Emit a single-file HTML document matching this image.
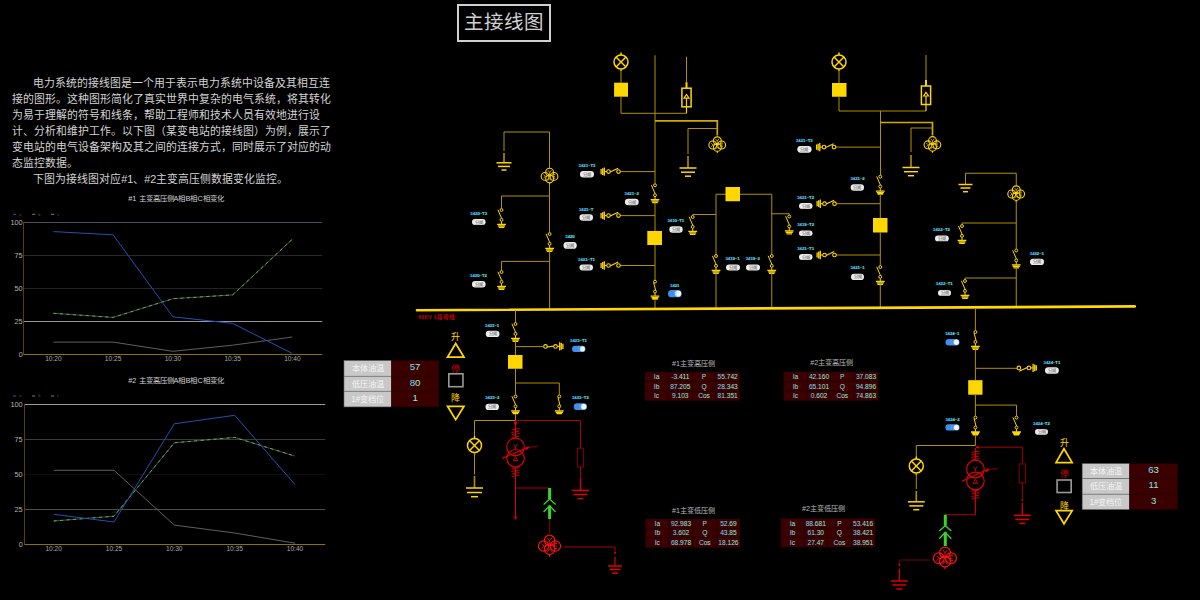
<!DOCTYPE html>
<html lang="zh-CN"><head><meta charset="utf-8"><title>主接线图</title>
<style>
html,body{margin:0;padding:0;background:#000;width:1200px;height:600px;overflow:hidden}
body{position:relative;font-family:"Liberation Sans",sans-serif}
#title{position:absolute;left:457px;top:4px;width:89.5px;height:33.6px;border:2.2px solid #cfcfcf;color:#d0d0d0;font-size:19.5px;line-height:33.6px;text-align:center;letter-spacing:0}
#intro{position:absolute;left:11.5px;top:75.3px;width:322px;font-size:10.87px;line-height:16px;color:#d4d4d4}
#intro p{margin:0;text-indent:21.74px}
svg{position:absolute;left:0;top:0}
.lb{font-size:4.25px;font-weight:bold;fill:url(#lbg);stroke:url(#lbg);stroke-width:0.12px}
.pt{font-size:4.2px}
.ct{font-size:9px}
.st{font-size:8.2px}
.sv{font-size:9.6px;fill:url(#vg)}
.dt{font-size:7.2px;fill:#b8b8b8}
.dv{font-size:6.6px;fill:url(#vg)}
.cht{font-size:7.4px;fill:#d0d0d0}
.ax{font-size:6.6px;fill:#a8a8a8}
.ax2{font-size:7.3px;fill:#b4b4b4}
</style></head><body>
<div id="title">主接线图</div>
<div id="intro"><p>电力系统的接线图是一个用于表示电力系统中设备及其相互连接的图形。这种图形简化了真实世界中复杂的电气系统，将其转化为易于理解的符号和线条，帮助工程师和技术人员有效地进行设计、分析和维护工作。以下图（某变电站的接线图）为例，展示了变电站的电气设备架构及其之间的连接方式，同时展示了对应的动态监控数据。</p><p>下图为接线图对应#1、#2主变高压侧数据变化监控。</p></div>
<svg width="1200" height="600" viewBox="0 0 1200 600" font-family="Liberation Sans, sans-serif">
<defs><linearGradient id="lbg" x1="0" y1="0" x2="1" y2="0"><stop offset="0" stop-color="#40b8ff"/><stop offset="0.55" stop-color="#55e4f8"/><stop offset="1" stop-color="#60f0c8"/></linearGradient><linearGradient id="vg" x1="0" y1="0" x2="1" y2="0"><stop offset="0" stop-color="#78c8ff"/><stop offset="0.5" stop-color="#88ecf0"/><stop offset="1" stop-color="#98f4b8"/></linearGradient></defs>
<g id="charts">
<text x="176" y="200.5" class="cht" text-anchor="middle">#1 主变高压侧A相B相C相变化</text>
<line x1="13" y1="214.3" x2="16.2" y2="214.3" stroke="#3a6fd8" stroke-width="1" opacity="0.8"/>
<text x="19" y="215.5" font-size="3" fill="#555">Ia</text>
<line x1="32" y1="214.3" x2="35.2" y2="214.3" stroke="#6ac24a" stroke-width="1" opacity="0.8"/>
<text x="38" y="215.5" font-size="3" fill="#555">Ib</text>
<line x1="51" y1="214.3" x2="54.2" y2="214.3" stroke="#9a9a9a" stroke-width="1" opacity="0.8"/>
<text x="57" y="215.5" font-size="3" fill="#555">Ic</text>
<line x1="23.5" y1="222.5" x2="322.3" y2="222.5" stroke="#50525a" stroke-width="1"/>
<text x="22.7" y="224.9" class="ax2" text-anchor="end">100</text>
<line x1="23.5" y1="255.5" x2="322.3" y2="255.5" stroke="#282828" stroke-width="1"/>
<text x="22.7" y="257.9" class="ax2" text-anchor="end">75</text>
<line x1="23.5" y1="288.5" x2="322.3" y2="288.5" stroke="#232323" stroke-width="1"/>
<text x="22.7" y="290.9" class="ax2" text-anchor="end">50</text>
<line x1="23.5" y1="321.5" x2="322.3" y2="321.5" stroke="#969696" stroke-width="1"/>
<text x="22.7" y="323.9" class="ax2" text-anchor="end">25</text>
<text x="22.7" y="356.9" class="ax2" text-anchor="end">0</text>
<line x1="23.5" y1="222.5" x2="23.5" y2="354.5" stroke="#524200" stroke-width="1"/>
<line x1="23.5" y1="354.5" x2="322.3" y2="354.5" stroke="#8a7300" stroke-width="1"/>
<text x="53.4" y="361.2" class="ax" text-anchor="middle">10:20</text>
<text x="113.1" y="361.2" class="ax" text-anchor="middle">10:25</text>
<text x="172.9" y="361.2" class="ax" text-anchor="middle">10:30</text>
<text x="232.7" y="361.2" class="ax" text-anchor="middle">10:35</text>
<text x="292.4" y="361.2" class="ax" text-anchor="middle">10:40</text>
<polyline points="53.4,342.1 113.1,342.1 172.9,351.3 232.7,345.2 292.4,337" fill="none" stroke="#6a6a6a" stroke-width="0.9" stroke-linejoin="round"/>
<polyline points="53.4,313.3 113.1,317.4 172.9,298.7 232.7,294.9 292.4,239.2" fill="none" stroke="#505050" stroke-width="0.9" stroke-linejoin="round"/>
<polyline points="53.4,313.3 113.1,317.4 172.9,298.7 232.7,294.9 292.4,239.2" fill="none" stroke="#4cc03c" stroke-width="1" stroke-dasharray="3 3.5"/>
<polyline points="53.4,231.6 113.1,234.8 172.9,316.8 232.7,323.4 292.4,353.5" fill="none" stroke="#2250b8" stroke-width="1.0" stroke-linejoin="round"/>
<text x="176" y="382.6" class="cht" text-anchor="middle">#2 主变高压侧A相B相C相变化</text>
<line x1="13" y1="396" x2="16.2" y2="396" stroke="#3a6fd8" stroke-width="1" opacity="0.8"/>
<text x="19" y="397.2" font-size="3" fill="#555">Ia</text>
<line x1="32" y1="396" x2="35.2" y2="396" stroke="#6ac24a" stroke-width="1" opacity="0.8"/>
<text x="38" y="397.2" font-size="3" fill="#555">Ib</text>
<line x1="51" y1="396" x2="54.2" y2="396" stroke="#9a9a9a" stroke-width="1" opacity="0.8"/>
<text x="57" y="397.2" font-size="3" fill="#555">Ic</text>
<line x1="24.5" y1="404.5" x2="325.2" y2="404.5" stroke="#a59b96" stroke-width="1"/>
<text x="22.7" y="406.9" class="ax2" text-anchor="end">100</text>
<line x1="24.5" y1="439.5" x2="325.2" y2="439.5" stroke="#373c3c" stroke-width="1"/>
<text x="22.7" y="441.9" class="ax2" text-anchor="end">75</text>
<line x1="24.5" y1="474.5" x2="325.2" y2="474.5" stroke="#0c0e12" stroke-width="1"/>
<text x="22.7" y="476.9" class="ax2" text-anchor="end">50</text>
<line x1="24.5" y1="509.5" x2="325.2" y2="509.5" stroke="#504e46" stroke-width="1"/>
<text x="22.7" y="511.9" class="ax2" text-anchor="end">25</text>
<text x="22.7" y="546.9" class="ax2" text-anchor="end">0</text>
<line x1="24.5" y1="404.5" x2="24.5" y2="544.5" stroke="#524200" stroke-width="1"/>
<line x1="24.5" y1="544.5" x2="325.2" y2="544.5" stroke="#8a7300" stroke-width="1"/>
<text x="53.7" y="551.1999999999999" class="ax" text-anchor="middle">10:20</text>
<text x="114.0" y="551.1999999999999" class="ax" text-anchor="middle">10:25</text>
<text x="174.3" y="551.1999999999999" class="ax" text-anchor="middle">10:30</text>
<text x="234.7" y="551.1999999999999" class="ax" text-anchor="middle">10:35</text>
<text x="295.0" y="551.1999999999999" class="ax" text-anchor="middle">10:40</text>
<polyline points="53.7,470.3 114.0,470.3 174.3,525.1 234.7,533 295.0,543.2" fill="none" stroke="#6a6a6a" stroke-width="0.9" stroke-linejoin="round"/>
<polyline points="53.7,521 114.0,516.2 174.3,442.8 234.7,437.4 295.0,456.1" fill="none" stroke="#505050" stroke-width="0.9" stroke-linejoin="round"/>
<polyline points="53.7,521 114.0,516.2 174.3,442.8 234.7,437.4 295.0,456.1" fill="none" stroke="#4cc03c" stroke-width="1" stroke-dasharray="3 3.5"/>
<polyline points="53.7,514.3 114.0,522 174.3,423.8 234.7,415.3 295.0,484.6" fill="none" stroke="#2250b8" stroke-width="1.0" stroke-linejoin="round"/>
</g>
<g id="diagram">
<g stroke="#ffd700" fill="none" stroke-width="1.5"><circle cx="621" cy="62" r="7.0"/><line x1="616.051" y1="57.051" x2="625.949" y2="66.949"/><line x1="616.051" y1="66.949" x2="625.949" y2="57.051"/><line x1="621" y1="52.5" x2="621" y2="55.0"/><line x1="621" y1="69.0" x2="621" y2="71.0"/></g>
<line x1="621" y1="69.2" x2="621" y2="82.7" stroke="#b09200" stroke-width="1.0" />
<rect x="614.1" y="82.7" width="13.9" height="14" fill="#ffd700"/>
<polyline points="621,96.7 621,113.3 686.5,113.3" fill="none" stroke="#b09200" stroke-width="1.0"/>
<line x1="686.5" y1="56.7" x2="686.5" y2="82.2" stroke="#b09200" stroke-width="1" />
<line x1="686.5" y1="82.2" x2="686.5" y2="88.2" stroke="#ffd700" stroke-width="2" />
<rect x="681.9" y="88.2" width="9.2" height="18.599999999999994" fill="none" stroke="#ffd700" stroke-width="1.5"/>
<path d="M686.5,107.3 V98.2 M684.0,98.2 L686.5,94.5 L689.0,98.2 Z" fill="none" stroke="#ffd700" stroke-width="1.2"/>
<line x1="686.5" y1="106.8" x2="686.5" y2="113.3" stroke="#ffd700" stroke-width="1.2" />
<line x1="655" y1="55.3" x2="655" y2="183.7" stroke="#b09200" stroke-width="1.0" />
<polyline points="655,120.8 717.3,120.8 717.3,135.5" fill="none" stroke="#d0aa00" stroke-width="1.7"/>
<g stroke="#ffd700" fill="none" stroke-width="1.5" transform="translate(717.3,145) scale(0.727)"><circle cx="0" cy="-5.8" r="5.4"/><circle cx="-6.2" cy="0" r="5.4"/><circle cx="6" cy="0" r="5.4"/><circle cx="0" cy="3.3" r="5.4"/><path d="M-2.5,-8.5 L0,-5.5 L2.5,-8.5 M0,-5.5 V-2.5 M-8.5,-2.5 L-6,0 L-8.5,2.5 M-6,0 H-3 M8,-2.5 H5 V2.5 H8 M5,0 H7.5 M-2.5,6 L0,3 L2.5,6" stroke-width="1"/><line x1="0" y1="8.7" x2="0" y2="11"/></g>
<polyline points="717,128.5 688,128.5 688,154" fill="none" stroke="#b09200" stroke-width="1.0"/>
<line x1="688" y1="156" x2="688" y2="168" stroke="#b09200" stroke-width="1.6" />
<g stroke="#ffd700" stroke-width="1.5"><line x1="679.5" y1="168" x2="696.5" y2="168"/><line x1="681.0" y1="172.2" x2="695.0" y2="172.2"/><line x1="685.0" y1="176.2" x2="691.0" y2="176.2"/></g>
<line x1="620.3" y1="171.6" x2="655" y2="171.6" stroke="#b09200" stroke-width="1.0" />
<g transform="translate(618.5,171.6) rotate(90)">
<g stroke="#ffd700" fill="none" stroke-width="1.1"><circle cx="0" cy="0" r="1.8"/><line x1="-3.4" y1="0.3" x2="0.4" y2="8.4"/><circle cx="0" cy="10" r="1.8"/><line x1="0" y1="11.8" x2="0" y2="14"/><path d="M-4.2,14.2 H4.2 M-3.4,15.8 H3.4 M-2.6,17.4 H2.6" stroke-width="1.3"/></g></g>
<text x="587.0" y="167.2" class="lb" text-anchor="middle">3421–T3</text>
<rect x="580" y="171" width="14" height="6.5" rx="3.25" fill="#ececec"/><text x="587.0" y="175.75" class="pt" text-anchor="middle" fill="#606060">分闸</text>
<g stroke="#ffd700" fill="none" stroke-width="1"><circle cx="655" cy="185.3" r="1.45"/><line x1="651.4" y1="185.10000000000002" x2="655.2" y2="193.8"/><circle cx="655" cy="195.20000000000002" r="1.45"/><line x1="655" y1="196.8" x2="655" y2="199.5"/><path d="M650.6,199.70000000000002 H659.4 M651.4,201.20000000000002 H658.6 M652.2,202.60000000000002 H657.8" stroke-width="1.3"/></g>
<line x1="655" y1="202.5" x2="655" y2="231" stroke="#b09200" stroke-width="1.0" />
<line x1="620.3" y1="215.6" x2="655" y2="215.6" stroke="#b09200" stroke-width="1.0" />
<g transform="translate(618.5,215.6) rotate(90)">
<g stroke="#ffd700" fill="none" stroke-width="1.1"><circle cx="0" cy="0" r="1.8"/><line x1="-3.4" y1="0.3" x2="0.4" y2="8.4"/><circle cx="0" cy="10" r="1.8"/><line x1="0" y1="11.8" x2="0" y2="14"/><path d="M-4.2,14.2 H4.2 M-3.4,15.8 H3.4 M-2.6,17.4 H2.6" stroke-width="1.3"/></g></g>
<text x="586.125" y="210.7" class="lb" text-anchor="middle">3421–T</text>
<rect x="579.5" y="214.25" width="13.5" height="6.5" rx="3.25" fill="#ececec"/><text x="586.25" y="219.0" class="pt" text-anchor="middle" fill="#606060">分闸</text>
<text x="631.7" y="194.89999999999998" class="lb" text-anchor="middle">3421–2</text>
<rect x="624.9" y="198.7" width="13.800000000000068" height="6.600000000000023" rx="3.3000000000000114" fill="#ececec"/><text x="631.8" y="203.5" class="pt" text-anchor="middle" fill="#606060">分闸</text>
<rect x="647.3" y="231" width="14.7" height="14" fill="#ffd700"/>
<line x1="655" y1="245" x2="655" y2="280" stroke="#b09200" stroke-width="1.0" />
<line x1="620.3" y1="265.5" x2="655" y2="265.5" stroke="#b09200" stroke-width="1.0" />
<g transform="translate(618.5,265.5) rotate(90)">
<g stroke="#ffd700" fill="none" stroke-width="1.1"><circle cx="0" cy="0" r="1.8"/><line x1="-3.4" y1="0.3" x2="0.4" y2="8.4"/><circle cx="0" cy="10" r="1.8"/><line x1="0" y1="11.8" x2="0" y2="14"/><path d="M-4.2,14.2 H4.2 M-3.4,15.8 H3.4 M-2.6,17.4 H2.6" stroke-width="1.3"/></g></g>
<text x="586.5" y="260.7" class="lb" text-anchor="middle">3421–T1</text>
<rect x="579.5" y="264.5" width="13.5" height="6.0" rx="3.0" fill="#ececec"/><text x="586.25" y="269.0" class="pt" text-anchor="middle" fill="#606060">分闸</text>
<g stroke="#ffd700" fill="none" stroke-width="1"><circle cx="655" cy="281.7" r="1.45"/><line x1="653.7" y1="282.7" x2="655.6" y2="290.2"/><circle cx="655" cy="291.59999999999997" r="1.45"/><line x1="655" y1="293.2" x2="655" y2="295.9"/><path d="M650.6,296.09999999999997 H659.4 M651.4,297.59999999999997 H658.6 M652.2,299.0 H657.8" stroke-width="1.3"/></g>
<line x1="655" y1="299" x2="655" y2="309" stroke="#b09200" stroke-width="1.0" />
<text x="674.75" y="286.7" class="lb" text-anchor="middle">3421</text>
<rect x="668" y="290" width="13.700000000000045" height="7.300000000000011" rx="3.6500000000000057" fill="#3d8ef0"/><circle cx="678.0500000000001" cy="293.65" r="3.0500000000000056" fill="#f4f4f4"/><text x="672.5" y="295.25" class="pt" fill="#8ab">分</text>
<polyline points="504,151 504,132 549.5,132 549.5,168" fill="none" stroke="#b09200" stroke-width="1.0"/>
<line x1="504" y1="153" x2="504" y2="162.5" stroke="#b09200" stroke-width="1.6" />
<g stroke="#ffd700" stroke-width="1.5"><line x1="496.5" y1="162.8" x2="511.5" y2="162.8"/><line x1="498.0" y1="166.4" x2="510.0" y2="166.4"/><line x1="501.5" y1="170.0" x2="506.5" y2="170.0"/></g>
<g stroke="#ffd700" fill="none" stroke-width="1.5" transform="translate(549.6,176.4) scale(0.727)"><circle cx="0" cy="-5.8" r="5.4"/><circle cx="-6.2" cy="0" r="5.4"/><circle cx="6" cy="0" r="5.4"/><circle cx="0" cy="3.3" r="5.4"/><path d="M-2.5,-8.5 L0,-5.5 L2.5,-8.5 M0,-5.5 V-2.5 M-8.5,-2.5 L-6,0 L-8.5,2.5 M-6,0 H-3 M8,-2.5 H5 V2.5 H8 M5,0 H7.5 M-2.5,6 L0,3 L2.5,6" stroke-width="1"/><line x1="0" y1="8.7" x2="0" y2="11"/></g>
<line x1="549.5" y1="184" x2="549.5" y2="232.4" stroke="#b09200" stroke-width="1.0" />
<polyline points="549.5,196 501.5,196 501.5,208.4" fill="none" stroke="#b09200" stroke-width="1.0"/>
<g stroke="#ffd700" fill="none" stroke-width="1"><circle cx="501.5" cy="210" r="1.45"/><line x1="497.9" y1="209.8" x2="501.7" y2="218.5"/><circle cx="501.5" cy="219.9" r="1.45"/><line x1="501.5" y1="221.5" x2="501.5" y2="224.2"/><path d="M497.1,224.4 H505.9 M497.9,225.9 H505.1 M498.7,227.3 H504.3" stroke-width="1.3"/></g>
<text x="478.7" y="214.6" class="lb" text-anchor="middle">3420–T3</text>
<rect x="472" y="219" width="13.600000000000023" height="6" rx="3.0" fill="#ececec"/><text x="478.8" y="223.5" class="pt" text-anchor="middle" fill="#606060">分闸</text>
<g stroke="#ffd700" fill="none" stroke-width="1"><circle cx="549.6" cy="234" r="1.45"/><line x1="546.0" y1="233.8" x2="549.8000000000001" y2="242.5"/><circle cx="549.6" cy="243.9" r="1.45"/><line x1="549.6" y1="245.5" x2="549.6" y2="248.2"/><path d="M545.2,248.4 H554.0 M546.0,249.9 H553.2 M546.8000000000001,251.3 H552.4" stroke-width="1.3"/></g>
<line x1="549.6" y1="251.3" x2="549.6" y2="309.5" stroke="#b09200" stroke-width="1.0" />
<text x="570.0" y="238.2" class="lb" text-anchor="middle">3420</text>
<rect x="563.5" y="242" width="13.25" height="6.75" rx="3.375" fill="#ececec"/><text x="570.125" y="246.875" class="pt" text-anchor="middle" fill="#606060">分闸</text>
<polyline points="549.6,261.4 501.5,261.4 501.5,270.4" fill="none" stroke="#b09200" stroke-width="1.0"/>
<g stroke="#ffd700" fill="none" stroke-width="1"><circle cx="501.5" cy="272" r="1.45"/><line x1="497.9" y1="271.8" x2="501.7" y2="280.5"/><circle cx="501.5" cy="281.9" r="1.45"/><line x1="501.5" y1="283.5" x2="501.5" y2="286.2"/><path d="M497.1,286.4 H505.9 M497.9,287.9 H505.1 M498.7,289.3 H504.3" stroke-width="1.3"/></g>
<text x="478.5" y="277.2" class="lb" text-anchor="middle">3420–T2</text>
<rect x="472" y="281" width="13.600000000000023" height="6.399999999999977" rx="3.1999999999999886" fill="#ececec"/><text x="478.8" y="285.7" class="pt" text-anchor="middle" fill="#606060">分闸</text>
<polyline points="716,254.4 716,194.25 771.75,194.25 771.75,254.4" fill="none" stroke="#b09200" stroke-width="1.0"/>
<rect x="725.5" y="187" width="14.5" height="14.25" fill="#ffd700"/>
<g stroke="#ffd700" fill="none" stroke-width="1"><circle cx="716" cy="256" r="1.45"/><line x1="712.4" y1="255.8" x2="716.2" y2="264.5"/><circle cx="716" cy="265.9" r="1.45"/><line x1="716" y1="267.5" x2="716" y2="270.2"/><path d="M711.6,270.4 H720.4 M712.4,271.9 H719.6 M713.2,273.3 H718.8" stroke-width="1.3"/></g>
<line x1="716" y1="273.2" x2="716" y2="308.3" stroke="#b09200" stroke-width="1.0" />
<g stroke="#ffd700" fill="none" stroke-width="1"><circle cx="771.75" cy="256" r="1.45"/><line x1="768.15" y1="255.8" x2="771.95" y2="264.5"/><circle cx="771.75" cy="265.9" r="1.45"/><line x1="771.75" y1="267.5" x2="771.75" y2="270.2"/><path d="M767.35,270.4 H776.15 M768.15,271.9 H775.35 M768.95,273.3 H774.55" stroke-width="1.3"/></g>
<line x1="771.75" y1="273.2" x2="771.75" y2="308" stroke="#b09200" stroke-width="1.0" />
<polyline points="716,214.5 692.7,214.5 692.7,215.4" fill="none" stroke="#b09200" stroke-width="1.0"/>
<g stroke="#ffd700" fill="none" stroke-width="1"><circle cx="692.7" cy="217" r="1.45"/><line x1="689.1" y1="216.8" x2="692.9000000000001" y2="225.5"/><circle cx="692.7" cy="226.9" r="1.45"/><line x1="692.7" y1="228.5" x2="692.7" y2="231.2"/><path d="M688.3000000000001,231.4 H697.1 M689.1,232.9 H696.3000000000001 M689.9000000000001,234.3 H695.5" stroke-width="1.3"/></g>
<polyline points="771.75,213.75 789.25,213.75 789.25,214.9" fill="none" stroke="#b09200" stroke-width="1.0"/>
<g stroke="#ffd700" fill="none" stroke-width="1"><circle cx="789.25" cy="216.5" r="1.45"/><line x1="785.65" y1="216.3" x2="789.45" y2="225.0"/><circle cx="789.25" cy="226.4" r="1.45"/><line x1="789.25" y1="228.0" x2="789.25" y2="230.7"/><path d="M784.85,230.9 H793.65 M785.65,232.4 H792.85 M786.45,233.8 H792.05" stroke-width="1.3"/></g>
<text x="675.85" y="222.2" class="lb" text-anchor="middle">3410–T1</text>
<rect x="669.3" y="226.3" width="13.400000000000091" height="6.399999999999977" rx="3.1999999999999886" fill="#ececec"/><text x="676.0" y="231.0" class="pt" text-anchor="middle" fill="#606060">分闸</text>
<text x="732.5" y="260.2" class="lb" text-anchor="middle">3419–1</text>
<rect x="726" y="264.5" width="14" height="6.0" rx="3.0" fill="#ececec"/><text x="733.0" y="269.0" class="pt" text-anchor="middle" fill="#606060">分闸</text>
<text x="752.75" y="260.2" class="lb" text-anchor="middle">3419–2</text>
<rect x="746" y="264.5" width="14" height="6.0" rx="3.0" fill="#ececec"/><text x="753.0" y="269.0" class="pt" text-anchor="middle" fill="#606060">分闸</text>
<text x="805.625" y="226.2" class="lb" text-anchor="middle">3419–T2</text>
<rect x="799" y="230.5" width="13.5" height="5.5" rx="2.75" fill="#ececec"/><text x="805.75" y="234.75" class="pt" text-anchor="middle" fill="#606060">分闸</text>
<g stroke="#ffd700" fill="none" stroke-width="1.5"><circle cx="839" cy="62" r="7.0"/><line x1="834.051" y1="57.051" x2="843.949" y2="66.949"/><line x1="834.051" y1="66.949" x2="843.949" y2="57.051"/><line x1="839" y1="52.5" x2="839" y2="55.0"/><line x1="839" y1="69.0" x2="839" y2="71.0"/></g>
<line x1="839" y1="69.2" x2="839" y2="83" stroke="#b09200" stroke-width="1.0" />
<rect x="832" y="83" width="14.5" height="13.75" fill="#ffd700"/>
<polyline points="839,96.75 839,111 926,111" fill="none" stroke="#b09200" stroke-width="1.0"/>
<line x1="926" y1="55" x2="926" y2="80" stroke="#b09200" stroke-width="1" />
<line x1="926" y1="80" x2="926" y2="86" stroke="#ffd700" stroke-width="2" />
<rect x="921.4" y="86" width="9.2" height="18.5" fill="none" stroke="#ffd700" stroke-width="1.5"/>
<path d="M926,105.0 V96 M923.5,96 L926,92.3 L928.5,96 Z" fill="none" stroke="#ffd700" stroke-width="1.2"/>
<line x1="926" y1="104.5" x2="926" y2="111" stroke="#ffd700" stroke-width="1.2" />
<line x1="880.5" y1="111" x2="880.5" y2="175" stroke="#b09200" stroke-width="1.0" />
<polyline points="880.5,122.5 932.5,122.5 932.5,135.5" fill="none" stroke="#d0aa00" stroke-width="1.7"/>
<g stroke="#ffd700" fill="none" stroke-width="1.5" transform="translate(932.5,144.8) scale(0.727)"><circle cx="0" cy="-5.8" r="5.4"/><circle cx="-6.2" cy="0" r="5.4"/><circle cx="6" cy="0" r="5.4"/><circle cx="0" cy="3.3" r="5.4"/><path d="M-2.5,-8.5 L0,-5.5 L2.5,-8.5 M0,-5.5 V-2.5 M-8.5,-2.5 L-6,0 L-8.5,2.5 M-6,0 H-3 M8,-2.5 H5 V2.5 H8 M5,0 H7.5 M-2.5,6 L0,3 L2.5,6" stroke-width="1"/><line x1="0" y1="8.7" x2="0" y2="11"/></g>
<polyline points="932.5,128 911,128 911,152" fill="none" stroke="#b09200" stroke-width="1.0"/>
<line x1="911" y1="155" x2="911" y2="167.5" stroke="#b09200" stroke-width="1.6" />
<g stroke="#ffd700" stroke-width="1.5"><line x1="902.5" y1="167.5" x2="919.5" y2="167.5"/><line x1="904.0" y1="171.7" x2="918.0" y2="171.7"/><line x1="908.0" y1="175.7" x2="914.0" y2="175.7"/></g>
<line x1="835.8" y1="147.1" x2="880.5" y2="147.1" stroke="#b09200" stroke-width="1.0" />
<g transform="translate(834,147.1) rotate(90)">
<g stroke="#ffd700" fill="none" stroke-width="1.1"><circle cx="0" cy="0" r="1.8"/><line x1="-3.4" y1="0.3" x2="0.4" y2="8.4"/><circle cx="0" cy="10" r="1.8"/><line x1="0" y1="11.8" x2="0" y2="14"/><path d="M-4.2,14.2 H4.2 M-3.4,15.8 H3.4 M-2.6,17.4 H2.6" stroke-width="1.3"/></g></g>
<text x="804.35" y="142.2" class="lb" text-anchor="middle">3421–T3</text>
<rect x="797.3" y="146" width="14.300000000000068" height="6.699999999999989" rx="3.3499999999999943" fill="#ececec"/><text x="804.45" y="150.85" class="pt" text-anchor="middle" fill="#606060">分闸</text>
<g stroke="#ffd700" fill="none" stroke-width="1"><circle cx="880.3" cy="176.7" r="1.45"/><line x1="876.6999999999999" y1="176.5" x2="880.5" y2="185.2"/><circle cx="880.3" cy="186.6" r="1.45"/><line x1="880.3" y1="188.2" x2="880.3" y2="190.89999999999998"/><path d="M875.9,191.1 H884.6999999999999 M876.6999999999999,192.6 H883.9 M877.5,194.0 H883.0999999999999" stroke-width="1.3"/></g>
<line x1="880.3" y1="194" x2="880.3" y2="218" stroke="#b09200" stroke-width="1.0" />
<line x1="836.3" y1="203.7" x2="880.3" y2="203.7" stroke="#b09200" stroke-width="1.0" />
<g transform="translate(834.5,203.7) rotate(90)">
<g stroke="#ffd700" fill="none" stroke-width="1.1"><circle cx="0" cy="0" r="1.8"/><line x1="-3.4" y1="0.3" x2="0.4" y2="8.4"/><circle cx="0" cy="10" r="1.8"/><line x1="0" y1="11.8" x2="0" y2="14"/><path d="M-4.2,14.2 H4.2 M-3.4,15.8 H3.4 M-2.6,17.4 H2.6" stroke-width="1.3"/></g></g>
<text x="805.625" y="199.2" class="lb" text-anchor="middle">3421–T2</text>
<rect x="799" y="203" width="13.5" height="6" rx="3.0" fill="#ececec"/><text x="805.75" y="207.5" class="pt" text-anchor="middle" fill="#606060">分闸</text>
<text x="857.55" y="180.2" class="lb" text-anchor="middle">3421–2</text>
<rect x="850.7" y="184.3" width="13.299999999999955" height="6.399999999999977" rx="3.1999999999999886" fill="#ececec"/><text x="857.35" y="189.0" class="pt" text-anchor="middle" fill="#606060">分闸</text>
<rect x="873" y="218" width="14.5" height="14.5" fill="#ffd700"/>
<line x1="880.3" y1="232.5" x2="880.3" y2="265.4" stroke="#b09200" stroke-width="1.0" />
<line x1="836.3" y1="255" x2="880.3" y2="255" stroke="#b09200" stroke-width="1.0" />
<g transform="translate(834.5,255) rotate(90)">
<g stroke="#ffd700" fill="none" stroke-width="1.1"><circle cx="0" cy="0" r="1.8"/><line x1="-3.4" y1="0.3" x2="0.4" y2="8.4"/><circle cx="0" cy="10" r="1.8"/><line x1="0" y1="11.8" x2="0" y2="14"/><path d="M-4.2,14.2 H4.2 M-3.4,15.8 H3.4 M-2.6,17.4 H2.6" stroke-width="1.3"/></g></g>
<text x="805.625" y="250.45" class="lb" text-anchor="middle">3421–T1</text>
<rect x="799" y="254" width="13.5" height="6" rx="3.0" fill="#ececec"/><text x="805.75" y="258.5" class="pt" text-anchor="middle" fill="#606060">分闸</text>
<g stroke="#ffd700" fill="none" stroke-width="1"><circle cx="880.3" cy="267" r="1.45"/><line x1="876.6999999999999" y1="266.8" x2="880.5" y2="275.5"/><circle cx="880.3" cy="276.9" r="1.45"/><line x1="880.3" y1="278.5" x2="880.3" y2="281.2"/><path d="M875.9,281.4 H884.6999999999999 M876.6999999999999,282.9 H883.9 M877.5,284.3 H883.0999999999999" stroke-width="1.3"/></g>
<line x1="880.3" y1="284.2" x2="880.3" y2="307.5" stroke="#b09200" stroke-width="1.0" />
<text x="857.5" y="269.45" class="lb" text-anchor="middle">3421–1</text>
<rect x="851" y="273.75" width="13" height="6.25" rx="3.125" fill="#ececec"/><text x="857.5" y="278.375" class="pt" text-anchor="middle" fill="#606060">分闸</text>
<polyline points="965.5,184.5 965.5,173.25 1016.25,173.25 1016.25,186" fill="none" stroke="#b09200" stroke-width="1.0"/>
<g stroke="#ffd700" stroke-width="1.5"><line x1="958.5" y1="184.5" x2="972.5" y2="184.5"/><line x1="960.5" y1="188.0" x2="970.5" y2="188.0"/><line x1="963.0" y1="191.7" x2="968.0" y2="191.7"/></g>
<g stroke="#ffd700" fill="none" stroke-width="1.5" transform="translate(1016.25,194) scale(0.727)"><circle cx="0" cy="-5.8" r="5.4"/><circle cx="-6.2" cy="0" r="5.4"/><circle cx="6" cy="0" r="5.4"/><circle cx="0" cy="3.3" r="5.4"/><path d="M-2.5,-8.5 L0,-5.5 L2.5,-8.5 M0,-5.5 V-2.5 M-8.5,-2.5 L-6,0 L-8.5,2.5 M-6,0 H-3 M8,-2.5 H5 V2.5 H8 M5,0 H7.5 M-2.5,6 L0,3 L2.5,6" stroke-width="1"/><line x1="0" y1="8.7" x2="0" y2="11"/></g>
<line x1="1016.25" y1="201" x2="1016.25" y2="248.9" stroke="#b09200" stroke-width="1.0" />
<polyline points="1016.25,223 962,223 962,224.4" fill="none" stroke="#b09200" stroke-width="1.0"/>
<g stroke="#ffd700" fill="none" stroke-width="1"><circle cx="962" cy="226" r="1.45"/><line x1="958.4" y1="225.8" x2="962.2" y2="234.5"/><circle cx="962" cy="235.9" r="1.45"/><line x1="962" y1="237.5" x2="962" y2="240.2"/><path d="M957.6,240.4 H966.4 M958.4,241.9 H965.6 M959.2,243.3 H964.8" stroke-width="1.3"/></g>
<text x="941.5" y="231.2" class="lb" text-anchor="middle">3422–T2</text>
<rect x="935" y="235.5" width="13.75" height="5.75" rx="2.875" fill="#ececec"/><text x="941.875" y="239.875" class="pt" text-anchor="middle" fill="#606060">分闸</text>
<g stroke="#ffd700" fill="none" stroke-width="1"><circle cx="1016.25" cy="250.5" r="1.45"/><line x1="1012.65" y1="250.3" x2="1016.45" y2="259.0"/><circle cx="1016.25" cy="260.4" r="1.45"/><line x1="1016.25" y1="262.0" x2="1016.25" y2="264.7"/><path d="M1011.85,264.9 H1020.65 M1012.65,266.4 H1019.85 M1013.45,267.8 H1019.05" stroke-width="1.3"/></g>
<line x1="1016.25" y1="267.8" x2="1016.25" y2="306.5" stroke="#b09200" stroke-width="1.0" />
<text x="1036.875" y="254.95" class="lb" text-anchor="middle">3422–1</text>
<rect x="1030" y="258.75" width="14" height="6.25" rx="3.125" fill="#ececec"/><text x="1037.0" y="263.375" class="pt" text-anchor="middle" fill="#606060">分闸</text>
<polyline points="1016.25,278 965,278 965,279.4" fill="none" stroke="#b09200" stroke-width="1.0"/>
<g stroke="#ffd700" fill="none" stroke-width="1"><circle cx="965" cy="281" r="1.45"/><line x1="961.4" y1="280.8" x2="965.2" y2="289.5"/><circle cx="965" cy="290.9" r="1.45"/><line x1="965" y1="292.5" x2="965" y2="295.2"/><path d="M960.6,295.4 H969.4 M961.4,296.9 H968.6 M962.2,298.3 H967.8" stroke-width="1.3"/></g>
<text x="944.25" y="285.45" class="lb" text-anchor="middle">3422–T1</text>
<rect x="938" y="290" width="13" height="5.75" rx="2.875" fill="#ececec"/><text x="944.5" y="294.375" class="pt" text-anchor="middle" fill="#606060">分闸</text>
<line x1="417" y1="310.25" x2="1134.75" y2="306.4" stroke="#ffd800" stroke-width="2.7" stroke-linecap="round"/>
<text x="418" y="319" font-size="5.6" font-weight="bold" fill="#c00000">66KV 1段母线</text>
<line x1="515.5" y1="310" x2="515.5" y2="322.4" stroke="#b09200" stroke-width="1.0" />
<g stroke="#ffd700" fill="none" stroke-width="1"><circle cx="515.5" cy="324" r="1.45"/><line x1="511.9" y1="323.8" x2="515.7" y2="332.5"/><circle cx="515.5" cy="333.9" r="1.45"/><line x1="515.5" y1="335.5" x2="515.5" y2="338.2"/><path d="M511.1,338.4 H519.9 M511.9,339.9 H519.1 M512.7,341.3 H518.3" stroke-width="1.3"/></g>
<line x1="515.5" y1="341.2" x2="515.5" y2="355" stroke="#b09200" stroke-width="1.0" />
<line x1="515.5" y1="346.6" x2="543.6" y2="346.6" stroke="#b09200" stroke-width="1.0" />
<g transform="translate(545.5,346.4) rotate(-90)">
<g stroke="#ffd700" fill="none" stroke-width="1.1"><circle cx="0" cy="0" r="1.8"/><line x1="-0.6" y1="1.2" x2="0.3" y2="8.4"/><circle cx="0" cy="10" r="1.8"/><line x1="0" y1="11.8" x2="0" y2="14"/><path d="M-4.2,14.2 H4.2 M-3.4,15.8 H3.4 M-2.6,17.4 H2.6" stroke-width="1.3"/></g></g>
<text x="492.125" y="326.7" class="lb" text-anchor="middle">3423–1</text>
<rect x="485.75" y="330.75" width="13.75" height="6.25" rx="3.125" fill="#ececec"/><text x="492.625" y="335.375" class="pt" text-anchor="middle" fill="#606060">分闸</text>
<text x="578.5" y="341.95" class="lb" text-anchor="middle">3423–T1</text>
<rect x="572" y="345.75" width="13.5" height="6.25" rx="3.125" fill="#3d8ef0"/><circle cx="582.375" cy="348.875" r="2.525" fill="#f4f4f4"/><text x="576.5" y="350.475" class="pt" fill="#8ab">分</text>
<rect x="508" y="355" width="14.5" height="13.75" fill="#ffd700"/>
<line x1="515.5" y1="368.75" x2="515.5" y2="394.6" stroke="#b09200" stroke-width="1.0" />
<polyline points="515.5,383 559.3,383 559.3,394.6" fill="none" stroke="#b09200" stroke-width="1.0"/>
<g stroke="#ffd700" fill="none" stroke-width="1"><circle cx="515.5" cy="396.4" r="1.45"/><line x1="511.9" y1="396.2" x2="515.7" y2="404.9"/><circle cx="515.5" cy="406.29999999999995" r="1.45"/><line x1="515.5" y1="407.9" x2="515.5" y2="410.59999999999997"/><path d="M511.1,410.79999999999995 H519.9 M511.9,412.29999999999995 H519.1 M512.7,413.7 H518.3" stroke-width="1.3"/></g>
<g stroke="#ffd700" fill="none" stroke-width="1"><circle cx="559.3" cy="396.4" r="1.45"/><line x1="558.0" y1="397.4" x2="559.9" y2="404.9"/><circle cx="559.3" cy="406.29999999999995" r="1.45"/><line x1="559.3" y1="407.9" x2="559.3" y2="410.59999999999997"/><path d="M554.9,410.79999999999995 H563.6999999999999 M555.6999999999999,412.29999999999995 H562.9 M556.5,413.7 H562.0999999999999" stroke-width="1.3"/></g>
<line x1="515.5" y1="414" x2="515.5" y2="420.5" stroke="#b09200" stroke-width="1.0" />
<text x="492.25" y="399.45" class="lb" text-anchor="middle">3423–2</text>
<rect x="485.5" y="403.75" width="13.5" height="6.25" rx="3.125" fill="#ececec"/><text x="492.25" y="408.375" class="pt" text-anchor="middle" fill="#606060">分闸</text>
<text x="580.375" y="399.45" class="lb" text-anchor="middle">3423–T2</text>
<rect x="573.75" y="403.25" width="13.25" height="6.75" rx="3.375" fill="#3d8ef0"/><circle cx="583.625" cy="406.625" r="2.775" fill="#f4f4f4"/><text x="578.25" y="408.225" class="pt" fill="#8ab">分</text>
<polyline points="474.5,438.3 474.5,420.5 515.5,420.5" fill="none" stroke="#b09200" stroke-width="1.0"/>
<polyline points="515.5,420.5 580.5,420.5 580.5,448.25" fill="none" stroke="#a8000a" stroke-width="1"/>
<g stroke="#ffd700" fill="none" stroke-width="1.5"><circle cx="474.5" cy="445.5" r="7.0"/><line x1="469.551" y1="440.551" x2="479.449" y2="450.449"/><line x1="469.551" y1="450.449" x2="479.449" y2="440.551"/><line x1="474.5" y1="436.0" x2="474.5" y2="438.5"/><line x1="474.5" y1="452.5" x2="474.5" y2="454.5"/></g>
<line x1="474.5" y1="452.7" x2="474.5" y2="474.5" stroke="#b09200" stroke-width="1.0" />
<line x1="474.5" y1="476" x2="474.5" y2="488" stroke="#b09200" stroke-width="1.6" />
<g stroke="#ffd700" stroke-width="1.5"><line x1="466.0" y1="488" x2="483.0" y2="488"/><line x1="467.0" y1="492.5" x2="482.0" y2="492.5"/><line x1="471.0" y1="496.7" x2="478.0" y2="496.7"/></g>
<line x1="515.5" y1="420.5" x2="515.5" y2="426" stroke="#e00000" stroke-width="1.0" />
<path d="M514,422.5 L515.5,425.5 L517,422.5 Z" fill="#e00000" stroke="#e00000" stroke-width="0.8"/>
<g stroke="#e00000" fill="none" stroke-width="1"><line x1="515.5" y1="425.5" x2="515.5" y2="438.09999999999997"/><path d="M511.5,430.0 L519.5,428.5 M511.5,432.5 L519.5,431.0 M511.5,435.0 L519.5,433.5 M511.5,437.5 L519.5,436.0" stroke-width="0.9"/><circle cx="515.5" cy="446.9" r="8.8" stroke-width="1.2"/><circle cx="515.5" cy="458.3" r="8.8" stroke-width="1.2"/><path d="M513.5,444.4 L515.5,446.9 L517.5,444.4 M515.5,446.9 V449.4" stroke-width="0.9"/><path d="M513.2,460.6 L515.5,456.5 L517.8,460.6 Z" stroke-width="0.9"/><line x1="502.0" y1="458.6" x2="528.0" y2="447.2" stroke-width="1.1"/><path d="M525.3,448.2 L529.5,446.9 L526.5,449.9" fill="#e00000" stroke-width="1"/><path d="M530.5,447.9 q2,-2 4,-1 q2,1 3.5,-1.5" stroke-width="0.7"/><line x1="515.5" y1="467.1" x2="515.5" y2="519"/><path d="M511.5,469.0 L519.5,467.5 M511.5,471.5 L519.5,470.0 M511.5,474.0 L519.5,472.5 M511.5,476.5 L519.5,475.0" stroke-width="0.9"/></g>
<path d="M513.5,516 L515.5,519.5 L517.5,516" fill="none" stroke="#a8000a" stroke-width="1"/>
<polyline points="515.6,488 549.6,488" fill="none" stroke="#a8000a" stroke-width="1"/>
<g stroke="#39d62a" fill="none"><line x1="549.6" y1="488" x2="549.6" y2="499" stroke-width="3"/><path d="M543.6,504.4 L549.6,499 L555.6,504.4" stroke-width="1.3"/><path d="M543.6,512 L549.6,505.6 L555.6,512" stroke-width="1.3"/><line x1="549.6" y1="505.6" x2="549.6" y2="519" stroke-width="3"/></g>
<line x1="549.6" y1="519" x2="549.6" y2="533" stroke="#7a0000" stroke-width="1.2" />
<g stroke="#ff1010" fill="none" stroke-width="1.25" transform="translate(549.6,546) scale(0.964)"><circle cx="0" cy="-5.8" r="5.4"/><circle cx="-6.2" cy="0" r="5.4"/><circle cx="6" cy="0" r="5.4"/><circle cx="0" cy="3.3" r="5.4"/><path d="M-2.5,-8.5 L0,-5.5 L2.5,-8.5 M0,-5.5 V-2.5 M-8.5,-2.5 L-6,0 L-8.5,2.5 M-6,0 H-3 M8,-2.5 H5 V2.5 H8 M5,0 H7.5 M-2.5,6 L0,3 L2.5,6" stroke-width="1"/><line x1="0" y1="8.7" x2="0" y2="11"/></g>
<polyline points="564,547 615,547 615,553" fill="none" stroke="#a8000a" stroke-width="1"/>
<circle cx="615" cy="553" r="1" fill="#e00000"/>
<line x1="615" y1="557" x2="615" y2="566" stroke="#e00000" stroke-width="1.2" />
<g stroke="#e00000" stroke-width="1.5"><line x1="608.0" y1="566" x2="622.0" y2="566"/><line x1="609.5" y1="569.6" x2="620.5" y2="569.6"/><line x1="612.0" y1="573.2" x2="618.0" y2="573.2"/></g>
<rect x="577.5" y="448.25" width="6" height="18.75" fill="none" stroke="#7a0000" stroke-width="1.1"/>
<line x1="580.5" y1="467" x2="580.5" y2="478" stroke="#a8000a" stroke-width="1" />
<line x1="580.5" y1="478" x2="580.5" y2="490.4" stroke="#e00000" stroke-width="1.3" />
<g stroke="#e00000" stroke-width="1.5"><line x1="572.0" y1="490.4" x2="589.0" y2="490.4"/><line x1="573.5" y1="494.5" x2="587.5" y2="494.5"/><line x1="577.5" y1="498.59999999999997" x2="583.5" y2="498.59999999999997"/></g>
<line x1="975.4" y1="308" x2="975.4" y2="330.4" stroke="#b09200" stroke-width="1.0" />
<g stroke="#ffd700" fill="none" stroke-width="1"><circle cx="975.4" cy="332" r="1.45"/><line x1="974.1" y1="333" x2="976.0" y2="340.5"/><circle cx="975.4" cy="341.9" r="1.45"/><line x1="975.4" y1="343.5" x2="975.4" y2="346.2"/><path d="M971.0,346.4 H979.8 M971.8,347.9 H979.0 M972.6,349.3 H978.1999999999999" stroke-width="1.3"/></g>
<line x1="975.4" y1="349.2" x2="975.4" y2="380.2" stroke="#b09200" stroke-width="1.0" />
<line x1="975.4" y1="368.3" x2="1017" y2="368.3" stroke="#b09200" stroke-width="1.0" />
<g transform="translate(1018.9,367.9) rotate(-90)">
<g stroke="#ffd700" fill="none" stroke-width="1.1"><circle cx="0" cy="0" r="1.8"/><line x1="-3.4" y1="0.3" x2="0.4" y2="8.4"/><circle cx="0" cy="10" r="1.8"/><line x1="0" y1="11.8" x2="0" y2="14"/><path d="M-4.2,14.2 H4.2 M-3.4,15.8 H3.4 M-2.6,17.4 H2.6" stroke-width="1.3"/></g></g>
<text x="952.25" y="335.4" class="lb" text-anchor="middle">3424–1</text>
<rect x="945.5" y="339" width="14.0" height="6.5" rx="3.25" fill="#3d8ef0"/><circle cx="956.25" cy="342.25" r="2.65" fill="#f4f4f4"/><text x="950.0" y="343.85" class="pt" fill="#8ab">分</text>
<text x="1051.9499999999998" y="363.59999999999997" class="lb" text-anchor="middle">3424–T1</text>
<rect x="1045" y="367.2" width="13.799999999999955" height="6.5" rx="3.25" fill="#ececec"/><text x="1051.9" y="371.95" class="pt" text-anchor="middle" fill="#606060">分闸</text>
<rect x="968.2" y="380.2" width="14.3" height="14.5" fill="#ffd700"/>
<line x1="975.4" y1="394.7" x2="975.4" y2="416" stroke="#b09200" stroke-width="1.0" />
<polyline points="975.4,405.1 1016.5,405.1 1016.5,416" fill="none" stroke="#b09200" stroke-width="1.0"/>
<g stroke="#ffd700" fill="none" stroke-width="1"><circle cx="975.4" cy="417.6" r="1.45"/><line x1="974.1" y1="418.6" x2="976.0" y2="426.1"/><circle cx="975.4" cy="427.5" r="1.45"/><line x1="975.4" y1="429.1" x2="975.4" y2="431.8"/><path d="M971.0,432.0 H979.8 M971.8,433.5 H979.0 M972.6,434.90000000000003 H978.1999999999999" stroke-width="1.3"/></g>
<g stroke="#ffd700" fill="none" stroke-width="1"><circle cx="1016.5" cy="417.6" r="1.45"/><line x1="1012.9" y1="417.40000000000003" x2="1016.7" y2="426.1"/><circle cx="1016.5" cy="427.5" r="1.45"/><line x1="1016.5" y1="429.1" x2="1016.5" y2="431.8"/><path d="M1012.1,432.0 H1020.9 M1012.9,433.5 H1020.1 M1013.7,434.90000000000003 H1019.3" stroke-width="1.3"/></g>
<line x1="975.4" y1="434.8" x2="975.4" y2="445.5" stroke="#b09200" stroke-width="1.0" />
<text x="952.5" y="420.7" class="lb" text-anchor="middle">3424–2</text>
<rect x="945.4" y="424.2" width="14.200000000000045" height="6.400000000000034" rx="3.200000000000017" fill="#3d8ef0"/><circle cx="956.4" cy="427.4" r="2.600000000000017" fill="#f4f4f4"/><text x="949.9" y="429.0" class="pt" fill="#8ab">分</text>
<text x="1041.45" y="424.8" class="lb" text-anchor="middle">3424–T2</text>
<rect x="1035" y="429" width="13" height="5.699999999999989" rx="2.8499999999999943" fill="#ececec"/><text x="1041.5" y="433.35" class="pt" text-anchor="middle" fill="#606060">分闸</text>
<polyline points="916.3,458.8 916.3,445.5 975.4,445.5" fill="none" stroke="#b09200" stroke-width="1.0"/>
<polyline points="976,447.2 1022.3,447.2 1022.3,463.8" fill="none" stroke="#a8000a" stroke-width="1"/>
<g stroke="#ffd700" fill="none" stroke-width="1.5"><circle cx="916.3" cy="466" r="7.0"/><line x1="911.351" y1="461.051" x2="921.2489999999999" y2="470.949"/><line x1="911.351" y1="470.949" x2="921.2489999999999" y2="461.051"/><line x1="916.3" y1="456.5" x2="916.3" y2="459.0"/><line x1="916.3" y1="473.0" x2="916.3" y2="475.0"/></g>
<line x1="916.3" y1="473.2" x2="916.3" y2="489" stroke="#b09200" stroke-width="1.0" />
<line x1="916.3" y1="491" x2="916.3" y2="501.8" stroke="#b09200" stroke-width="1.6" />
<g stroke="#ffd700" stroke-width="1.5"><line x1="907.8" y1="501.8" x2="924.8" y2="501.8"/><line x1="909.3" y1="505.90000000000003" x2="923.3" y2="505.90000000000003"/><line x1="913.3" y1="509.7" x2="919.3" y2="509.7"/></g>
<path d="M975.6,447.2 L978.5,445.5 L978.5,449 Z" fill="#e00000"/>
<g stroke="#e00000" fill="none" stroke-width="1"><line x1="975.4" y1="448" x2="975.4" y2="460.2"/><path d="M971.4,452.5 L979.4,451 M971.4,455 L979.4,453.5 M971.4,457.5 L979.4,456 M971.4,460 L979.4,458.5" stroke-width="0.9"/><circle cx="975.4" cy="469" r="8.8" stroke-width="1.2"/><circle cx="975.4" cy="481" r="8.8" stroke-width="1.2"/><path d="M973.4,466.5 L975.4,469 L977.4,466.5 M975.4,469 V471.5" stroke-width="0.9"/><path d="M973.1,483.3 L975.4,479.2 L977.6999999999999,483.3 Z" stroke-width="0.9"/><line x1="961.9" y1="481.3" x2="987.9" y2="469.3" stroke-width="1.1"/><path d="M985.1999999999999,470.3 L989.4,469 L986.4,472" fill="#e00000" stroke-width="1"/><path d="M990.4,470 q2,-2 4,-1 q2,1 3.5,-1.5" stroke-width="0.7"/><line x1="975.4" y1="489.8" x2="975.4" y2="514.7"/><path d="M971.4,491.5 L979.4,490 M971.4,494 L979.4,492.5 M971.4,496.5 L979.4,495 M971.4,499 L979.4,497.5" stroke-width="0.9"/></g>
<polyline points="975.4,514.7 945.3,514.7" fill="none" stroke="#a8000a" stroke-width="1"/>
<g stroke="#39d62a" fill="none"><line x1="945.3" y1="514.7" x2="945.3" y2="525.7" stroke-width="3"/><path d="M939.3,531.1 L945.3,525.7 L951.3,531.1" stroke-width="1.3"/><path d="M939.3,538.7 L945.3,532.3000000000001 L951.3,538.7" stroke-width="1.3"/><line x1="945.3" y1="532.3000000000001" x2="945.3" y2="546" stroke-width="3"/></g>
<g stroke="#ff1010" fill="none" stroke-width="1.25" transform="translate(945,558.25) scale(1.000)"><circle cx="0" cy="-5.8" r="5.4"/><circle cx="-6.2" cy="0" r="5.4"/><circle cx="6" cy="0" r="5.4"/><circle cx="0" cy="3.3" r="5.4"/><path d="M-2.5,-8.5 L0,-5.5 L2.5,-8.5 M0,-5.5 V-2.5 M-8.5,-2.5 L-6,0 L-8.5,2.5 M-6,0 H-3 M8,-2.5 H5 V2.5 H8 M5,0 H7.5 M-2.5,6 L0,3 L2.5,6" stroke-width="1"/><line x1="0" y1="8.7" x2="0" y2="11"/></g>
<polyline points="930,560 899.4,560 899.4,565" fill="none" stroke="#7a0000" stroke-width="1"/>
<circle cx="899.4" cy="565" r="1" fill="#e00000"/>
<line x1="899.4" y1="568.7" x2="899.4" y2="581" stroke="#e00000" stroke-width="1.2" />
<g stroke="#e00000" stroke-width="1.5"><line x1="890.9" y1="581" x2="907.9" y2="581"/><line x1="892.4" y1="585" x2="906.4" y2="585"/><line x1="896.4" y1="589" x2="902.4" y2="589"/></g>
<rect x="1019.2" y="464" width="6.3" height="18.7" fill="none" stroke="#7a0000" stroke-width="1.1"/>
<line x1="1022.3" y1="482.8" x2="1022.3" y2="499" stroke="#a8000a" stroke-width="1" />
<circle cx="1022.3" cy="500" r="0.9" fill="#e00000"/>
<line x1="1022.3" y1="503" x2="1022.3" y2="515.4" stroke="#e00000" stroke-width="1.3" />
<g stroke="#e00000" stroke-width="1.5"><line x1="1013.8" y1="515.4" x2="1030.8" y2="515.4"/><line x1="1015.3" y1="519.5" x2="1029.3" y2="519.5"/><line x1="1019.3" y1="523.5" x2="1025.3" y2="523.5"/></g>
</g>
<g id="panels">
<text x="455.7" y="339.75" class="ct" fill="#ffd700" text-anchor="middle">升</text>
<polygon points="455.7,343.5 464,357.2 447.5,357.2" fill="none" stroke="#ffd700" stroke-width="1.7"/>
<text x="455.7" y="371.5" class="ct" fill="#d00000" text-anchor="middle">停</text>
<rect x="448.8" y="373.8" width="14.15" height="12.9" fill="none" stroke="#9a9a9a" stroke-width="1.6"/>
<text x="455.7" y="401.0" class="ct" fill="#ffd700" text-anchor="middle">降</text>
<polygon points="447.5,406.3 464,406.3 455.7,419.6" fill="none" stroke="#ffd700" stroke-width="1.7"/>
<text x="1064" y="446.0" class="ct" fill="#ffd700" text-anchor="middle">升</text>
<polygon points="1064,448.8 1072.2,462.6 1056,462.6" fill="none" stroke="#ffd700" stroke-width="1.7"/>
<text x="1064" y="476.8" class="ct" fill="#d00000" text-anchor="middle">停</text>
<rect x="1057.1" y="480.0" width="14.100000000000046" height="12.500000000000023" fill="none" stroke="#9a9a9a" stroke-width="1.6"/>
<text x="1064" y="508.5" class="ct" fill="#ffd700" text-anchor="middle">降</text>
<polygon points="1056,510.7 1072.2,510.7 1064,523.8" fill="none" stroke="#ffd700" stroke-width="1.7"/>
<rect x="344" y="360.6" width="47.5" height="15.649999999999977" fill="#c8c8c8" stroke="#6a6a6a" stroke-width="0.6"/>
<rect x="391.5" y="360.6" width="47.25" height="15.649999999999977" fill="#3a0000" stroke="#250000" stroke-width="0.6"/>
<text x="367.75" y="371.425" class="st" text-anchor="middle" fill="#f4f4f4">本体油温</text>
<text x="415.125" y="370.425" class="sv" text-anchor="middle">57</text>
<rect x="344" y="376.25" width="47.5" height="15.0" fill="#c8c8c8" stroke="#6a6a6a" stroke-width="0.6"/>
<rect x="391.5" y="376.25" width="47.25" height="15.0" fill="#3a0000" stroke="#250000" stroke-width="0.6"/>
<text x="367.75" y="386.75" class="st" text-anchor="middle" fill="#f4f4f4">低压油温</text>
<text x="415.125" y="385.75" class="sv" text-anchor="middle">80</text>
<rect x="344" y="391.25" width="47.5" height="15.649999999999977" fill="#c8c8c8" stroke="#6a6a6a" stroke-width="0.6"/>
<rect x="391.5" y="391.25" width="47.25" height="15.649999999999977" fill="#3a0000" stroke="#250000" stroke-width="0.6"/>
<text x="367.75" y="402.075" class="st" text-anchor="middle" fill="#f4f4f4">1#变档位</text>
<text x="415.125" y="401.075" class="sv" text-anchor="middle">1</text>
<rect x="1082.2" y="463.7" width="47.5" height="15.0" fill="#c8c8c8" stroke="#6a6a6a" stroke-width="0.6"/>
<rect x="1129.7" y="463.7" width="47.799999999999955" height="15.0" fill="#3a0000" stroke="#250000" stroke-width="0.6"/>
<text x="1105.95" y="474.2" class="st" text-anchor="middle" fill="#f4f4f4">本体油温</text>
<text x="1153.6" y="473.2" class="sv" text-anchor="middle">63</text>
<rect x="1082.2" y="478.7" width="47.5" height="15.5" fill="#c8c8c8" stroke="#6a6a6a" stroke-width="0.6"/>
<rect x="1129.7" y="478.7" width="47.799999999999955" height="15.5" fill="#3a0000" stroke="#250000" stroke-width="0.6"/>
<text x="1105.95" y="489.45" class="st" text-anchor="middle" fill="#f4f4f4">低压油温</text>
<text x="1153.6" y="488.45" class="sv" text-anchor="middle">11</text>
<rect x="1082.2" y="494.2" width="47.5" height="15.300000000000011" fill="#c8c8c8" stroke="#6a6a6a" stroke-width="0.6"/>
<rect x="1129.7" y="494.2" width="47.799999999999955" height="15.300000000000011" fill="#3a0000" stroke="#250000" stroke-width="0.6"/>
<text x="1105.95" y="504.85" class="st" text-anchor="middle" fill="#f4f4f4">1#变档位</text>
<text x="1153.6" y="503.85" class="sv" text-anchor="middle">3</text>
<text x="693.5" y="365.6" class="dt" text-anchor="middle">#1主变高压侧</text>
<rect x="645" y="372.25" width="94.75" height="28.350000000000023" fill="#3c0000"/>
<line x1="668.1" y1="372.25" x2="668.1" y2="400.6" stroke="#220000" stroke-width="1"/>
<line x1="692.5" y1="372.25" x2="692.5" y2="400.6" stroke="#220000" stroke-width="1"/>
<line x1="715.6" y1="372.25" x2="715.6" y2="400.6" stroke="#220000" stroke-width="1"/>
<line x1="645" y1="381.25" x2="739.75" y2="381.25" stroke="#220000" stroke-width="1"/>
<line x1="645" y1="391.25" x2="739.75" y2="391.25" stroke="#220000" stroke-width="1"/>
<text x="656.55" y="379.05" class="dv" text-anchor="middle">Ia</text>
<text x="680.3" y="379.05" class="dv" text-anchor="middle">-3.411</text>
<text x="704.05" y="379.05" class="dv" text-anchor="middle">P</text>
<text x="727.675" y="379.05" class="dv" text-anchor="middle">55.742</text>
<text x="656.55" y="388.55" class="dv" text-anchor="middle">Ib</text>
<text x="680.3" y="388.55" class="dv" text-anchor="middle">87.205</text>
<text x="704.05" y="388.55" class="dv" text-anchor="middle">Q</text>
<text x="727.675" y="388.55" class="dv" text-anchor="middle">28.343</text>
<text x="656.55" y="398.225" class="dv" text-anchor="middle">Ic</text>
<text x="680.3" y="398.225" class="dv" text-anchor="middle">9.103</text>
<text x="704.05" y="398.225" class="dv" text-anchor="middle">Cos</text>
<text x="727.675" y="398.225" class="dv" text-anchor="middle">81.351</text>
<text x="831.75" y="365.3" class="dt" text-anchor="middle">#2主变高压侧</text>
<rect x="783.5" y="372" width="94.5" height="28.5" fill="#3c0000"/>
<line x1="807.5" y1="372" x2="807.5" y2="400.5" stroke="#220000" stroke-width="1"/>
<line x1="830.5" y1="372" x2="830.5" y2="400.5" stroke="#220000" stroke-width="1"/>
<line x1="854" y1="372" x2="854" y2="400.5" stroke="#220000" stroke-width="1"/>
<line x1="783.5" y1="381.5" x2="878" y2="381.5" stroke="#220000" stroke-width="1"/>
<line x1="783.5" y1="391" x2="878" y2="391" stroke="#220000" stroke-width="1"/>
<text x="795.5" y="379.05" class="dv" text-anchor="middle">Ia</text>
<text x="819.0" y="379.05" class="dv" text-anchor="middle">42.160</text>
<text x="842.25" y="379.05" class="dv" text-anchor="middle">P</text>
<text x="866.0" y="379.05" class="dv" text-anchor="middle">37.083</text>
<text x="795.5" y="388.55" class="dv" text-anchor="middle">Ib</text>
<text x="819.0" y="388.55" class="dv" text-anchor="middle">65.101</text>
<text x="842.25" y="388.55" class="dv" text-anchor="middle">Q</text>
<text x="866.0" y="388.55" class="dv" text-anchor="middle">94.896</text>
<text x="795.5" y="398.05" class="dv" text-anchor="middle">Ic</text>
<text x="819.0" y="398.05" class="dv" text-anchor="middle">0.602</text>
<text x="842.25" y="398.05" class="dv" text-anchor="middle">Cos</text>
<text x="866.0" y="398.05" class="dv" text-anchor="middle">74.863</text>
<text x="693.5" y="513.0" class="dt" text-anchor="middle">#1主变低压侧</text>
<rect x="645.5" y="519" width="94.5" height="28.5" fill="#3c0000"/>
<line x1="669.2" y1="519" x2="669.2" y2="547.5" stroke="#220000" stroke-width="1"/>
<line x1="692.8" y1="519" x2="692.8" y2="547.5" stroke="#220000" stroke-width="1"/>
<line x1="716.8" y1="519" x2="716.8" y2="547.5" stroke="#220000" stroke-width="1"/>
<line x1="645.5" y1="528.3" x2="740" y2="528.3" stroke="#220000" stroke-width="1"/>
<line x1="645.5" y1="537.5" x2="740" y2="537.5" stroke="#220000" stroke-width="1"/>
<text x="657.35" y="525.9499999999999" class="dv" text-anchor="middle">Ia</text>
<text x="681.0" y="525.9499999999999" class="dv" text-anchor="middle">92.983</text>
<text x="704.8" y="525.9499999999999" class="dv" text-anchor="middle">P</text>
<text x="728.4" y="525.9499999999999" class="dv" text-anchor="middle">52.69</text>
<text x="657.35" y="535.1999999999999" class="dv" text-anchor="middle">Ib</text>
<text x="681.0" y="535.1999999999999" class="dv" text-anchor="middle">3.602</text>
<text x="704.8" y="535.1999999999999" class="dv" text-anchor="middle">Q</text>
<text x="728.4" y="535.1999999999999" class="dv" text-anchor="middle">43.85</text>
<text x="657.35" y="544.8" class="dv" text-anchor="middle">Ic</text>
<text x="681.0" y="544.8" class="dv" text-anchor="middle">68.978</text>
<text x="704.8" y="544.8" class="dv" text-anchor="middle">Cos</text>
<text x="728.4" y="544.8" class="dv" text-anchor="middle">18.126</text>
<text x="823.5" y="511.0" class="dt" text-anchor="middle">#2主变低压侧</text>
<rect x="780.8" y="518.5" width="94.20000000000005" height="28.5" fill="#3c0000"/>
<line x1="804" y1="518.5" x2="804" y2="547" stroke="#220000" stroke-width="1"/>
<line x1="827.5" y1="518.5" x2="827.5" y2="547" stroke="#220000" stroke-width="1"/>
<line x1="851.2" y1="518.5" x2="851.2" y2="547" stroke="#220000" stroke-width="1"/>
<line x1="780.8" y1="528" x2="875" y2="528" stroke="#220000" stroke-width="1"/>
<line x1="780.8" y1="537.5" x2="875" y2="537.5" stroke="#220000" stroke-width="1"/>
<text x="792.4" y="525.55" class="dv" text-anchor="middle">Ia</text>
<text x="815.75" y="525.55" class="dv" text-anchor="middle">88.681</text>
<text x="839.35" y="525.55" class="dv" text-anchor="middle">P</text>
<text x="863.1" y="525.55" class="dv" text-anchor="middle">53.416</text>
<text x="792.4" y="535.05" class="dv" text-anchor="middle">Ib</text>
<text x="815.75" y="535.05" class="dv" text-anchor="middle">61.30</text>
<text x="839.35" y="535.05" class="dv" text-anchor="middle">Q</text>
<text x="863.1" y="535.05" class="dv" text-anchor="middle">38.421</text>
<text x="792.4" y="544.55" class="dv" text-anchor="middle">Ic</text>
<text x="815.75" y="544.55" class="dv" text-anchor="middle">27.47</text>
<text x="839.35" y="544.55" class="dv" text-anchor="middle">Cos</text>
<text x="863.1" y="544.55" class="dv" text-anchor="middle">38.951</text>
</g>
</svg>
</body></html>
